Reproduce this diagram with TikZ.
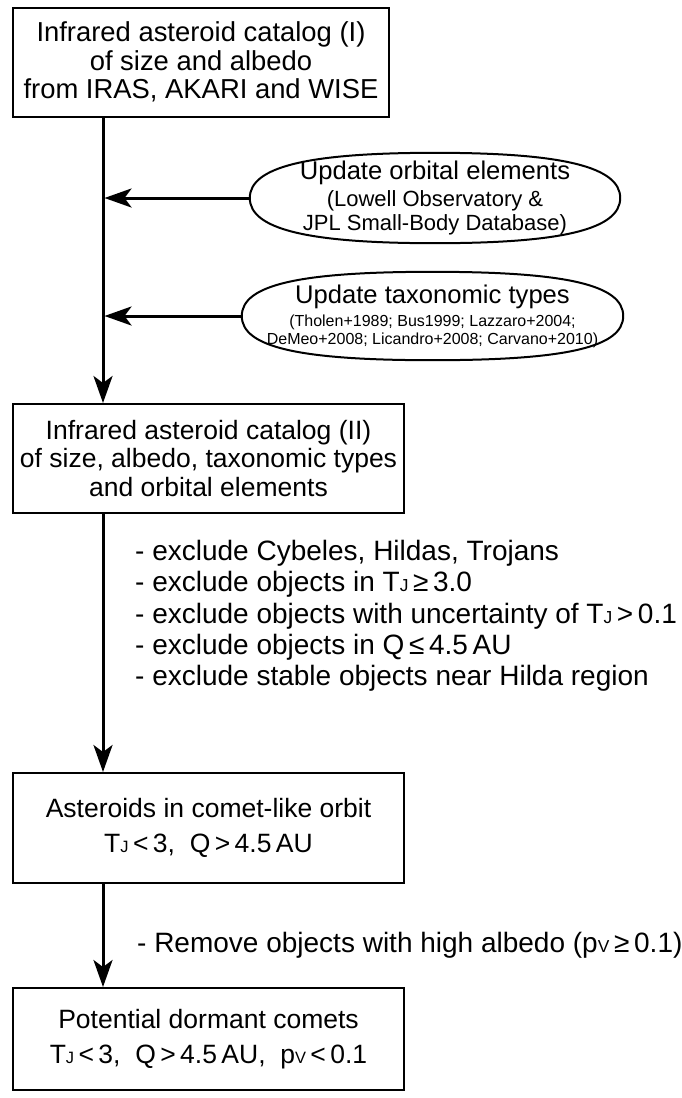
\documentclass[tikz,border=0pt]{standalone}
\usepackage{fontspec}
\setmainfont{Liberation Sans}
\usetikzlibrary{arrows.meta}
\def\TJ{T\scalebox{0.62}{J}}
\def\pV{p\scalebox{0.62}{V}}
% full oval drawn round a node: (node)(x pull:y pull)
\def\ovalframe(#1)(#2:#3){\draw[line width=2pt] (#1.north) .. controls +(#2,0pt) and +(0pt,#3) .. (#1.east)
	.. controls +(0pt,-#3) and +(#2,0pt) .. (#1.south)
	.. controls +(-#2,0pt) and +(0pt,-#3) .. (#1.west)
	.. controls +(0pt,#3) and +(-#2,0pt) .. cycle;}

\begin{document}
\begin{tikzpicture}[x=1pt,y=-1pt,
	box/.style={draw, line width=2pt, align=center, inner sep=0pt, font=\fontsize{26.5}{28.5}\selectfont},
	oval/.style={align=center, inner sep=0pt},
	flow/.style={line width=3pt, -{Stealth[length=27pt,width=19pt,inset=7pt]}},
	note/.style={anchor=west, align=left, inner sep=0pt, font=\fontsize{28}{31.3}\selectfont}]
	%%%%% START %%%%%
	
	\useasboundingbox (0,0) rectangle (682,1098);
	\coordinate (spine) at (103,0);
	
	\node[box, minimum width=376pt, minimum height=109pt, font=\fontsize{27.4}{28.5}\selectfont] (cat1) at (201,62)
		{Infrared asteroid catalog (I)\\of size and albedo\\from IRAS, AKARI and WISE};
	
	\node[oval, minimum width=370pt, minimum height=90pt] (orbit) at (435,198)
		{\fontsize{25.6}{28}\selectfont Update orbital elements\\[5pt]
		 \fontsize{22}{25}\selectfont (Lowell Observatory \&\\[2pt]
		 \fontsize{22}{25}\selectfont JPL Small-Body Database)};
	\ovalframe(orbit)(128pt:31pt)
	
	\node[oval, minimum width=381pt, minimum height=88pt] (taxon) at (432.5,316)
		{\fontsize{25.6}{26}\selectfont Update taxonomic types\\[5pt]
		 \fontsize{16}{18.5}\selectfont (Tholen+1989; Bus1999; Lazzaro+2004;\\[2pt]
		 \fontsize{16}{18.5}\selectfont DeMeo+2008; Licandro+2008; Carvano+2010)};
	\ovalframe(taxon)(134pt:31pt)
	
	\node[box, minimum width=391pt, minimum height=109pt] (cat2) at (208.5,458.5)
		{Infrared asteroid catalog (II)\\of size, albedo, taxonomic types\\and orbital elements};
	
	\node[note] (cuts) at (135,616)
		{- exclude Cybeles, Hildas, Trojans\\
		 - exclude objects in \TJ\,≥\,3.0\\
		 - exclude objects with uncertainty of \TJ\,>\,0.1\\
		 - exclude objects in Q\,≤\,4.5\,AU\\
		 - exclude stable objects near Hilda region};
	
	\node[box, minimum width=391pt, minimum height=110pt] (comet) at (208.5,828)
		{Asteroids in comet-like orbit\\[6pt]\TJ\,<\,3,\ \ Q\,>\,4.5\,AU};
	
	\node[note] (albedo) at (137,945)
		{- Remove objects with high albedo (\pV\,≥\,0.1)};
	
	\node[box, minimum width=391pt, minimum height=102pt] (dormant) at (208.5,1039)
		{Potential dormant comets\\[6pt]\TJ\,<\,3,\ \ Q\,>\,4.5\,AU,\ \ \pV\,<\,0.1};
	
	% main flow down the left side
	\draw[flow] (cat1.south -| spine) -- (cat2.north -| spine);
	\draw[flow] (cat2.south -| spine) -- (comet.north -| spine);
	\draw[flow] (comet.south -| spine) -- (dormant.north -| spine);
	
	% updates coming in from the right
	\draw[flow] (orbit.west) -- ([xshift=1.5pt]orbit.west -| spine);
	\draw[flow] (taxon.west) -- ([xshift=1.5pt]taxon.west -| spine);
	
	%%%%% END %%%%%
\end{tikzpicture}
\end{document}
